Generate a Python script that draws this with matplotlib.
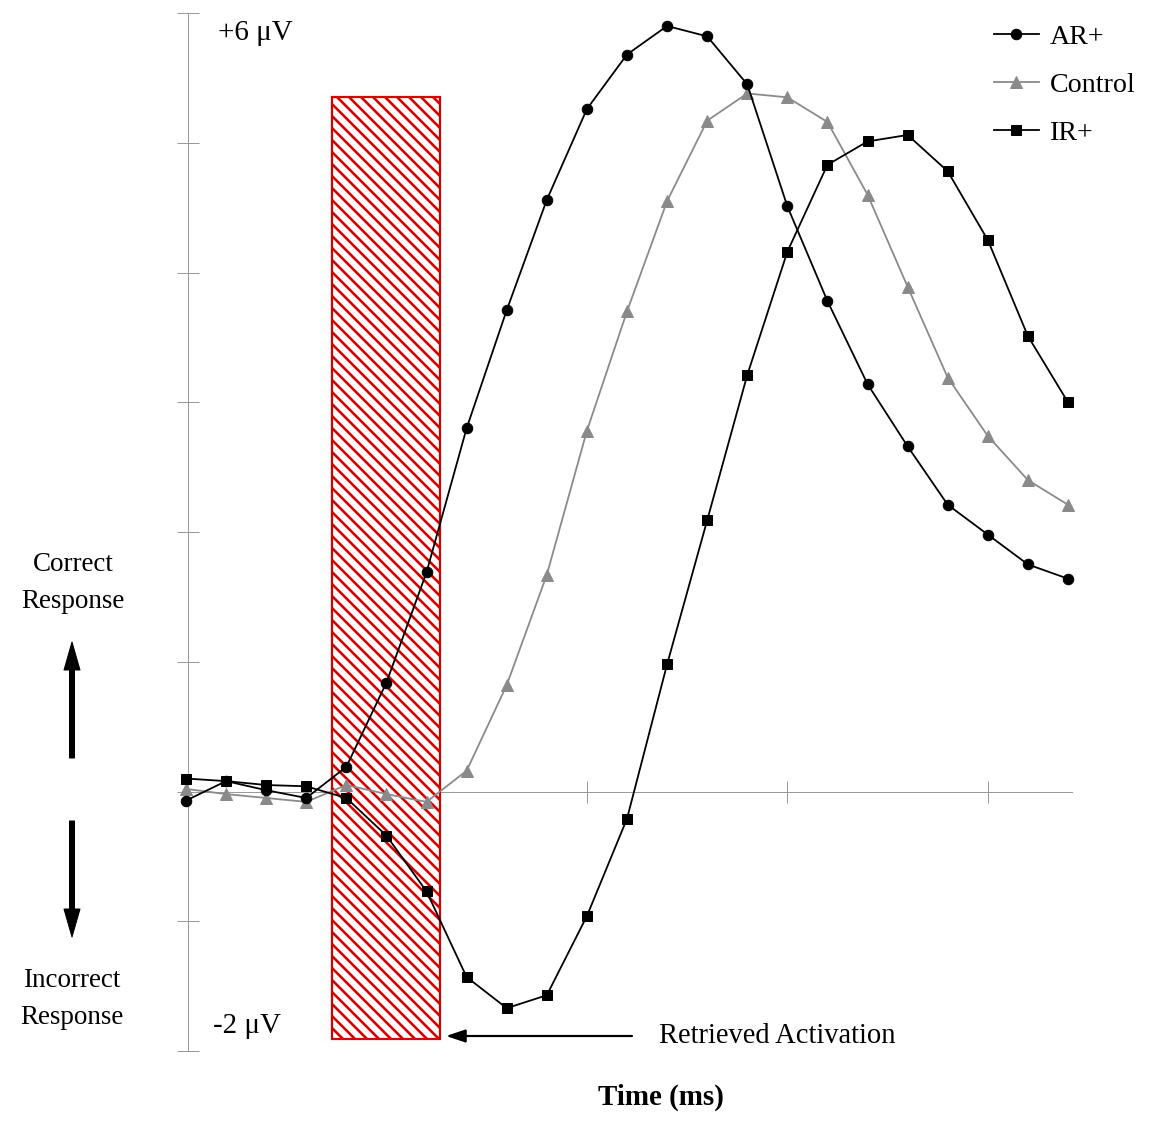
import matplotlib
matplotlib.use("Agg")
import matplotlib.pyplot as plt
from matplotlib.patches import Rectangle

# ---------------- data ----------------
time_points = list(range(23))  # sample index (no tick labels in the original)
ar_plus = [-0.07, 0.08, 0.01, -0.05, 0.19, 0.84, 1.69, 2.80, 3.71, 4.56, 5.26,
           5.68, 5.90, 5.82, 5.45, 4.51, 3.78, 3.14, 2.66, 2.21, 1.98, 1.75, 1.64]
control = [0.02, -0.02, -0.05, -0.08, 0.05, -0.02, -0.08, 0.16, 0.82, 1.67, 2.78,
           3.70, 4.55, 5.17, 5.38, 5.35, 5.16, 4.60, 3.89, 3.19, 2.74, 2.40, 2.21]
ir_plus = [0.10, 0.08, 0.05, 0.04, -0.05, -0.34, -0.77, -1.43, -1.67, -1.57, -0.96,
           -0.21, 0.98, 2.09, 3.21, 4.16, 4.83, 5.01, 5.06, 4.78, 4.25, 3.51, 3.00]
series_labels = ["AR+", "Control", "IR+"]

# retrieved-activation window (in sample / µV units)
window_start, window_end = 3.64, 6.34
window_bottom, window_top = -1.91, 5.35

y_ticks = list(range(-2, 7))
x_ticks = [5, 10, 15, 20]

# ---------------- figure ----------------
W, H, DPI = 1153, 1142, 72
plt.rcParams['font.family'] = ['Liberation Serif', 'DejaVu Serif']
plt.rcParams['hatch.linewidth'] = 2.6
fig = plt.figure(figsize=(W / DPI, H / DPI), dpi=DPI)

ax_left, ax_right = 188, 1072
ax_top, ax_bottom = 13, 1051
ax = fig.add_axes([ax_left / W, 1 - ax_bottom / H, (ax_right - ax_left) / W, (ax_bottom - ax_top) / H])

ax.set_xlim(0.05, 22.1)
ax.set_ylim(-2, 6)

# hatched window
rect = Rectangle((window_start, window_bottom), window_end - window_start, window_top - window_bottom,
                 facecolor='white', edgecolor='#d40000', hatch='\\\\', linewidth=2.2, zorder=2.6)
ax.add_patch(rect)

ax.plot(time_points, ar_plus, color='black', lw=1.8, marker='o', ms=10.5, label=series_labels[0],
        zorder=4, clip_on=False)
ax.plot(time_points, control, color='#8a8a8a', lw=1.8, marker='^', ms=12, label=series_labels[1],
        zorder=3, clip_on=False)
ax.plot(time_points, ir_plus, color='black', lw=1.8, marker='s', ms=10.5, label=series_labels[2],
        zorder=5, clip_on=False)

# axes styling
axis_grey = '#9a9a9a'
for s in ['top', 'right']:
    ax.spines[s].set_visible(False)
ax.spines['bottom'].set_position(('data', 0))
ax.spines['left'].set_color(axis_grey)
ax.spines['bottom'].set_color(axis_grey)
ax.spines['left'].set_linewidth(1.0)
ax.spines['bottom'].set_linewidth(1.0)
ax.set_yticks(y_ticks)
ax.set_xticks(x_ticks)
ax.set_yticklabels([])
ax.set_xticklabels([])
ax.tick_params(axis='both', direction='inout', length=22, width=1.0, color=axis_grey)
ax.patch.set_alpha(0)

# legend
leg = ax.legend(loc='upper left', bbox_to_anchor=(994 / W, 1 - 24 / H), bbox_transform=fig.transFigure,
                frameon=False, fontsize=28, handlelength=1.6, handletextpad=0.4, labelspacing=0.8,
                borderpad=0, borderaxespad=0)

# text annotations (figure pixel coordinates, origin top-left converted)
def fy(y):
    return 1 - y / H

def fx(x):
    return x / W

fig.text(fx(218), fy(33), "+6 \u03bcV", fontsize=29, ha='left', va='center')
fig.text(fx(213), fy(1026), "-2 \u03bcV", fontsize=29, ha='left', va='center')
fig.text(fx(73), fy(583), "Correct\nResponse", fontsize=27, ha='center', va='center', linespacing=1.6)
fig.text(fx(72), fy(999), "Incorrect\nResponse", fontsize=27, ha='center', va='center', linespacing=1.6)
fig.text(fx(659), fy(1036), "Retrieved Activation", fontsize=28.5, ha='left', va='center')
fig.text(fx(661), fy(1097), "Time (ms)", fontsize=29, ha='center', va='center', fontweight='bold')

# direction arrows
arrow_kw = dict(width=5, headwidth=16, headlength=28, facecolor='black', edgecolor='black', shrink=0)
ax.annotate('', xy=(fx(72), fy(642)), xytext=(fx(72), fy(758)), xycoords='figure fraction',
            textcoords='figure fraction', arrowprops=arrow_kw)
ax.annotate('', xy=(fx(72), fy(937)), xytext=(fx(72), fy(821)), xycoords='figure fraction',
            textcoords='figure fraction', arrowprops=arrow_kw)
ax.annotate('', xy=(fx(446), fy(1036)), xytext=(fx(632), fy(1036)), xycoords='figure fraction',
            textcoords='figure fraction',
            arrowprops=dict(arrowstyle='-|>,head_width=0.3,head_length=0.9', lw=2.2, color='black',
                            mutation_scale=18, shrinkA=0, shrinkB=0))

fig.savefig("out.png", dpi=DPI, facecolor='white')
